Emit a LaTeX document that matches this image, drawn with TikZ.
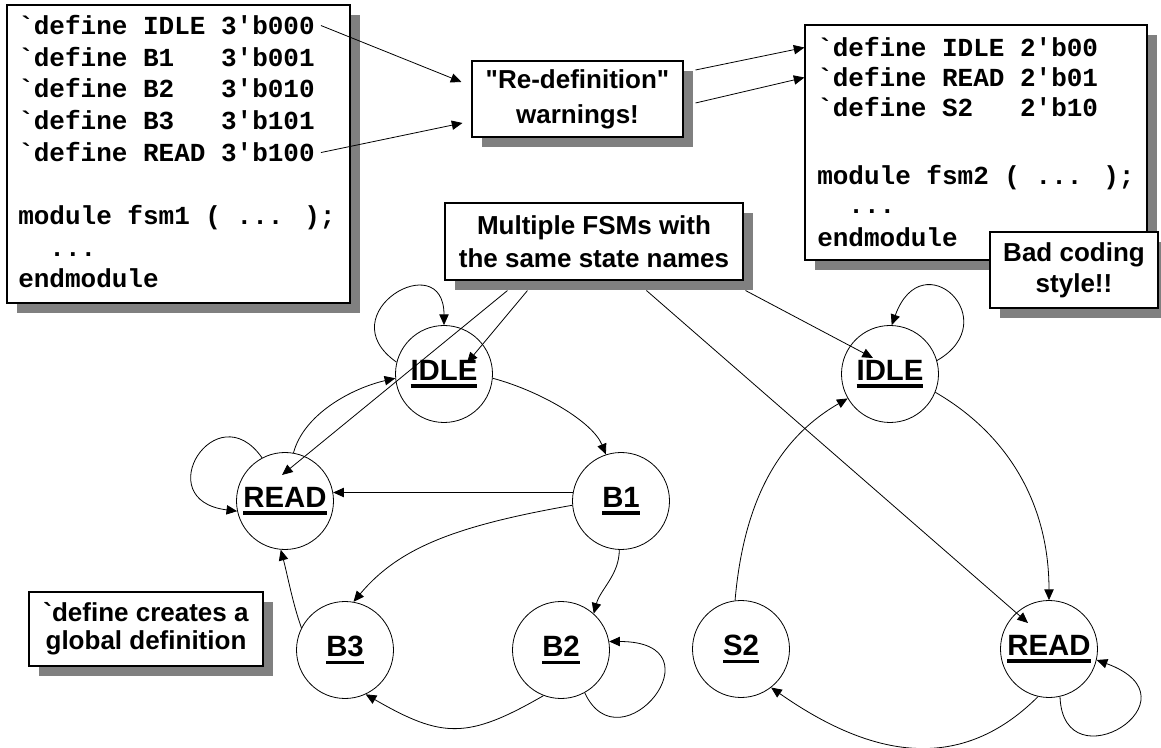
\documentclass[tikz,border=0pt]{standalone}
\usepackage{fontspec}
\newfontfamily\labelfont{Liberation Sans}
\newfontfamily\codefont{Liberation Mono}
\usetikzlibrary{arrows.meta,calc,shadows}
\newcommand\stname[1]{\setbox0\hbox{#1}\rlap{\usebox0}\rule[-5.5pt]{\wd0}{2.5pt}}
\tikzset{
  shadowbox/.style={draw,fill=white,line width=.8pt,inner sep=0pt,drop shadow={shadow xshift=7.5pt,shadow yshift=-7.5pt,opacity=1}},
  notebox/.style={shadowbox,align=center,font=\labelfont\bfseries\fontsize{19.5}{24}\selectfont},
  codeline/.style={anchor=base west,inner sep=0pt,font=\codefont\bfseries\fontsize{19.5}{24}\selectfont},
  fsmstate/.style={draw,circle,line width=.6pt,minimum size=72.75pt,inner sep=0pt,font=\labelfont\bfseries\fontsize{22}{26}\selectfont},
  trans/.style={line width=.6pt,-{Triangle[length=8pt,width=7pt]}}
}
\begin{document}
\begin{tikzpicture}[x=.75pt,y=.75pt]
\useasboundingbox (0,0) rectangle (1161,-748);
% code of the two modules
\node[shadowbox,minimum width=257.25pt,minimum height=223.5pt] (code1) at (178.5,-154) {};
\node[codeline] (c1) at (18,-35) {`define IDLE 3'b000};
\node[codeline] (c2) at (18,-67) {`define B1\ \ \ 3'b001};
\node[codeline] (c3) at (18,-98) {`define B2\ \ \ 3'b010};
\node[codeline] (c4) at (18,-130) {`define B3\ \ \ 3'b101};
\node[codeline] (c5) at (18,-162) {`define READ 3'b100};
\node[codeline] (c6) at (18,-225) {module fsm1 ( ... );};
\node[codeline] (c7) at (18,-257) {\hphantom{xx}...};
\node[codeline] (c8) at (18,-288) {endmodule};
\node[shadowbox,minimum width=256.5pt,minimum height=176.25pt] (code2) at (976,-142.5) {};
\node[codeline] (r1) at (817,-57) {`define IDLE 2'b00};
\node[codeline] (r2) at (817,-87) {`define READ 2'b01};
\node[codeline] (r3) at (817,-117) {`define S2\ \ \ 2'b10};
\node[codeline] (r4) at (817,-185) {module fsm2 ( ... );};
\node[codeline] (r5) at (817,-214) {\hphantom{xx}...};
\node[codeline] (r6) at (817,-247) {endmodule};
% remarks
\node[notebox,minimum width=158.25pt,minimum height=57pt,font=\labelfont\bfseries\fontsize{19.5}{26.25}\selectfont] (warn) at (577.5,-99) {"Re-definition"\\warnings!};
\node[notebox,minimum width=223.5pt,minimum height=57.75pt,font=\labelfont\bfseries\fontsize{19.5}{24.75}\selectfont] (multi) at (594,-241.5) {Multiple FSMs with\\the same state names};
\node[notebox,minimum width=126pt,minimum height=57pt,font=\labelfont\bfseries\fontsize{19.5}{23.25}\selectfont] (bad) at (1074,-270) {Bad coding\\style!!};
\node[notebox,minimum width=175.5pt,minimum height=55.5pt,font=\labelfont\bfseries\fontsize{19.5}{21}\selectfont] (glob) at (146,-629) {`define creates a\\global definition};
\draw[trans] ([xshift=4.5pt]c1.east) -- ($(warn.west)+(-10,17)$);
\draw[trans] ([xshift=4.5pt]c5.east) -- ($(warn.west)+(-9,-24)$);
\draw[trans] ($(warn.east)+(12,29)$) -- (code2.west |- r1.west);
\draw[trans] ($(warn.east)+(12,-4)$) -- (code2.west |- r2.west);
% first FSM
\node[fsmstate] (idle1) at (444,-374) {\stname{IDLE}};
\node[fsmstate] (read1) at (285,-501) {\stname{READ}};
\node[fsmstate] (b1) at (621,-501) {\stname{B1}};
\node[fsmstate] (b3) at (345,-650) {\stname{B3}};
\node[fsmstate] (b2) at (561,-650) {\stname{B2}};
\draw[trans] (idle1.166) .. controls +(145:85) and +(90:80) .. (idle1.90);
\draw[trans] (idle1.-5) .. controls +(-15:50) and +(112:35) .. (b1.108);
\draw[trans] (read1.80) .. controls +(75:40) and +(193:45) .. (idle1.185);
\draw[trans] (read1.118) .. controls +(125:80) and +(173:90) .. (read1.192);
\draw[trans] (b1.170) -- (read1.10);
\draw[trans] (b1.185) .. controls +(190:120) and +(50:70) .. (b3.80);
\draw[trans] (b1.-92) .. controls +(-90:25) and +(75:25) .. (b2.48);
\draw[trans] (b3.153) .. controls +(110:25) and +(-75:25) .. (read1.-95);
\draw[trans] (b2.-111) .. controls +(210:88) and +(-30:88) .. (b3.-65);
\draw[trans] (b2.-61) .. controls +(-65:85) and +(0:115) .. (b2.10);
% second FSM
\node[fsmstate] (idle2) at (890,-374) {\stname{IDLE}};
\node[fsmstate] (s2) at (741,-649) {\stname{S2}};
\node[fsmstate] (read2) at (1049,-649) {\stname{READ}};
\draw[trans] (idle2.16) .. controls +(30:80) and +(70:90) .. (idle2.88);
\draw[trans] (idle2.-22) .. controls +(-30:80) and +(90:100) .. (read2.90);
\draw[trans] (s2.97) .. controls +(85:100) and +(210:80) .. (idle2.210);
\draw[trans] (read2.-103) .. controls +(225:115) and +(-35:115) .. (s2.-52);
\draw[trans] (read2.-77) .. controls +(-88:90) and +(-20:115) .. (read2.-13);
% same names in both machines
\coordinate (m1) at ($(multi.south west)+(63,-10)$);
\coordinate (m2) at ($(multi.south west)+(83,-10)$);
\coordinate (m3) at ($(multi.south west)+(202,-10)$);
\coordinate (m4) at ($(multi.south east)+(2,-10)$);
\draw[trans] (m1) -- ($(read1)+(-3,26)$);
\draw[trans] (m2) -- ($(idle1)+(23,11)$);
\draw[trans] (m3) -- ($(read2)+(-21,26)$);
\draw[trans] (m4) -- ($(idle2)+(-17,16)$);
\end{tikzpicture}
\end{document}
